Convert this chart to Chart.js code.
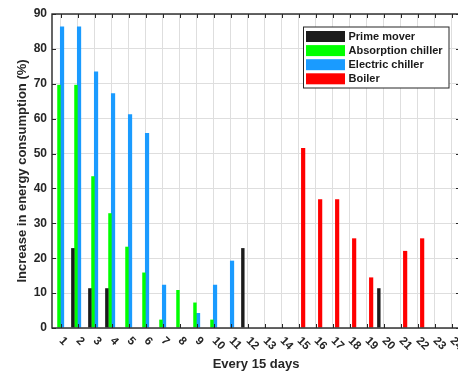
<!DOCTYPE html>
<html>
<head>
<meta charset="utf-8">
<script src="https://cdn.jsdelivr.net/npm/chart.js@4.4.1/dist/chart.umd.min.js"></script>
<style>
    html, body { margin: 0; padding: 0; background: #fff; overflow: hidden; }
    #wrap { width: 458px; height: 373px; overflow: hidden; }
    canvas { display: block; }
</style>
</head>
<body>
<div id="wrap"><canvas id="chart" width="462" height="373"></canvas></div>
<script>
// periods of 15 days
const days = ['1', '2', '3', '4', '5', '6', '7', '8', '9', '10', '11', '12',
    '13', '14', '15', '16', '17', '18', '19', '20', '21', '22', '23', '24'];

// increase in energy consumption (%) per unit
const primeMover = [0, 22.9, 11.4, 11.4, 0, 0, 0, 0, 0, 0, 0, 22.9,
    0, 0, 0, 0, 0, 0, 0, 11.4, 0, 0, 0, 0];
const absorptionChiller = [69.7, 69.7, 43.5, 32.9, 23.3, 15.9, 2.4, 10.9, 7.3, 2.4, 0, 0,
    0, 0, 0, 0, 0, 0, 0, 0, 0, 0, 0, 0];
const electricChiller = [86.4, 86.4, 73.5, 67.3, 61.3, 55.9, 12.4, 0, 4.3, 12.4, 19.3, 0,
    0, 0, 0, 0, 0, 0, 0, 0, 0, 0, 0, 0];
const boiler = [0, 0, 0, 0, 0, 0, 0, 0, 0, 0, 0, 0,
    0, 0, 51.6, 36.9, 36.9, 25.7, 14.5, 0, 22.1, 25.7, 0, 0];

const yTicks = [0, 10, 20, 30, 40, 50, 60, 70, 80, 90];

const fontFamily = "'Liberation Sans', Arial, Helvetica, sans-serif";
const axisColor = '#262626';
const gridColor = '#dedede';

Chart.defaults.font.family = fontFamily;

// box, inward ticks, rotated day labels and the legend
const frame = {
    id: 'frame',
    afterDraw(chart) {
        const ctx = chart.ctx;
        const { left, right, top, bottom } = chart.chartArea;
        const xs = chart.scales.x;
        const ys = chart.scales.y;

        ctx.save();
        ctx.strokeStyle = axisColor;
        ctx.lineWidth = 1.4;
        ctx.strokeRect(left, top, right - left, bottom - top);

        ctx.lineWidth = 1;
        ctx.beginPath();
        yTicks.forEach(function (v) {
            const y = Math.round(ys.getPixelForValue(v)) + 0.5;
            ctx.moveTo(left, y); ctx.lineTo(left + 4, y);
            ctx.moveTo(right - 4, y); ctx.lineTo(right, y);
        });
        days.forEach(function (d, i) {
            const x = Math.round(xs.getPixelForTick(i)) + 0.5;
            ctx.moveTo(x, bottom); ctx.lineTo(x, bottom - 4);
            ctx.moveTo(x, top); ctx.lineTo(x, top + 4);
        });
        ctx.stroke();

        ctx.fillStyle = axisColor;
        ctx.font = 'bold 11.5px ' + fontFamily;
        ctx.textAlign = 'left';
        ctx.textBaseline = 'middle';
        days.forEach(function (d, i) {
            const x = xs.getPixelForTick(i);
            ctx.save();
            ctx.translate(x + 0.5, bottom + 11);
            ctx.rotate(Math.PI / 4);
            ctx.fillText(d, 0, 0);
            ctx.restore();
        });

        // legend
        const lx = 303.5, ly = 27, lw = 145.5, lh = 61;
        ctx.fillStyle = '#ffffff';
        ctx.fillRect(lx, ly, lw, lh);
        ctx.strokeStyle = axisColor;
        ctx.lineWidth = 1;
        ctx.strokeRect(lx, ly, lw, lh);
        ctx.font = 'bold 11px ' + fontFamily;
        chart.data.datasets.forEach(function (ds, i) {
            const cy = ly + 9.5 + i * 14.1;
            ctx.fillStyle = ds.backgroundColor;
            ctx.fillRect(lx + 2.5, cy - 5.5, 39, 11);
            ctx.fillStyle = '#1a1a1a';
            ctx.fillText(ds.label, lx + 45, cy);
        });
        ctx.restore();
    }
};

const ctx = document.getElementById('chart').getContext('2d');
new Chart(ctx, {
    type: 'bar',
    data: {
        labels: days,
        datasets: [
            { label: 'Prime mover', data: primeMover, backgroundColor: '#1c1c1c', barPercentage: 1.1 },
            { label: 'Absorption chiller', data: absorptionChiller, backgroundColor: '#00ff00', barPercentage: 1.1 },
            { label: 'Electric chiller', data: electricChiller, backgroundColor: '#1a9bff', barPercentage: 1.35 },
            { label: 'Boiler', data: boiler, backgroundColor: '#ff0000', barPercentage: 1.35 }
        ]
    },
    options: {
        responsive: false,
        animation: false,
        events: [],
        layout: { padding: { left: 0, right: 2, top: 14, bottom: 0 } },
        datasets: {
            bar: { categoryPercentage: 0.73, borderWidth: 0 }
        },
        plugins: {
            legend: { display: false },
            tooltip: { enabled: false }
        },
        scales: {
            x: {
                grid: { offset: false, color: gridColor, drawTicks: false },
                border: { display: false },
                ticks: { display: false },
                title: {
                    display: true,
                    text: 'Every 15 days',
                    color: axisColor,
                    font: { size: 13, weight: 'bold' },
                    padding: { top: 0, bottom: 1 }
                },
                afterFit(scale) { scale.height = 45; }
            },
            y: {
                min: 0,
                max: 90,
                ticks: {
                    stepSize: 10,
                    color: axisColor,
                    font: { size: 12, weight: 'bold' },
                    padding: 5
                },
                grid: { color: gridColor, drawTicks: false },
                border: { display: false },
                title: {
                    display: true,
                    text: 'Increase in energy consumption (%)',
                    color: axisColor,
                    font: { size: 13, weight: 'bold' },
                    padding: { top: 15, bottom: 0 }
                },
                afterFit(scale) { scale.width = 52; }
            }
        }
    },
    plugins: [frame]
});
</script>
</body>
</html>
